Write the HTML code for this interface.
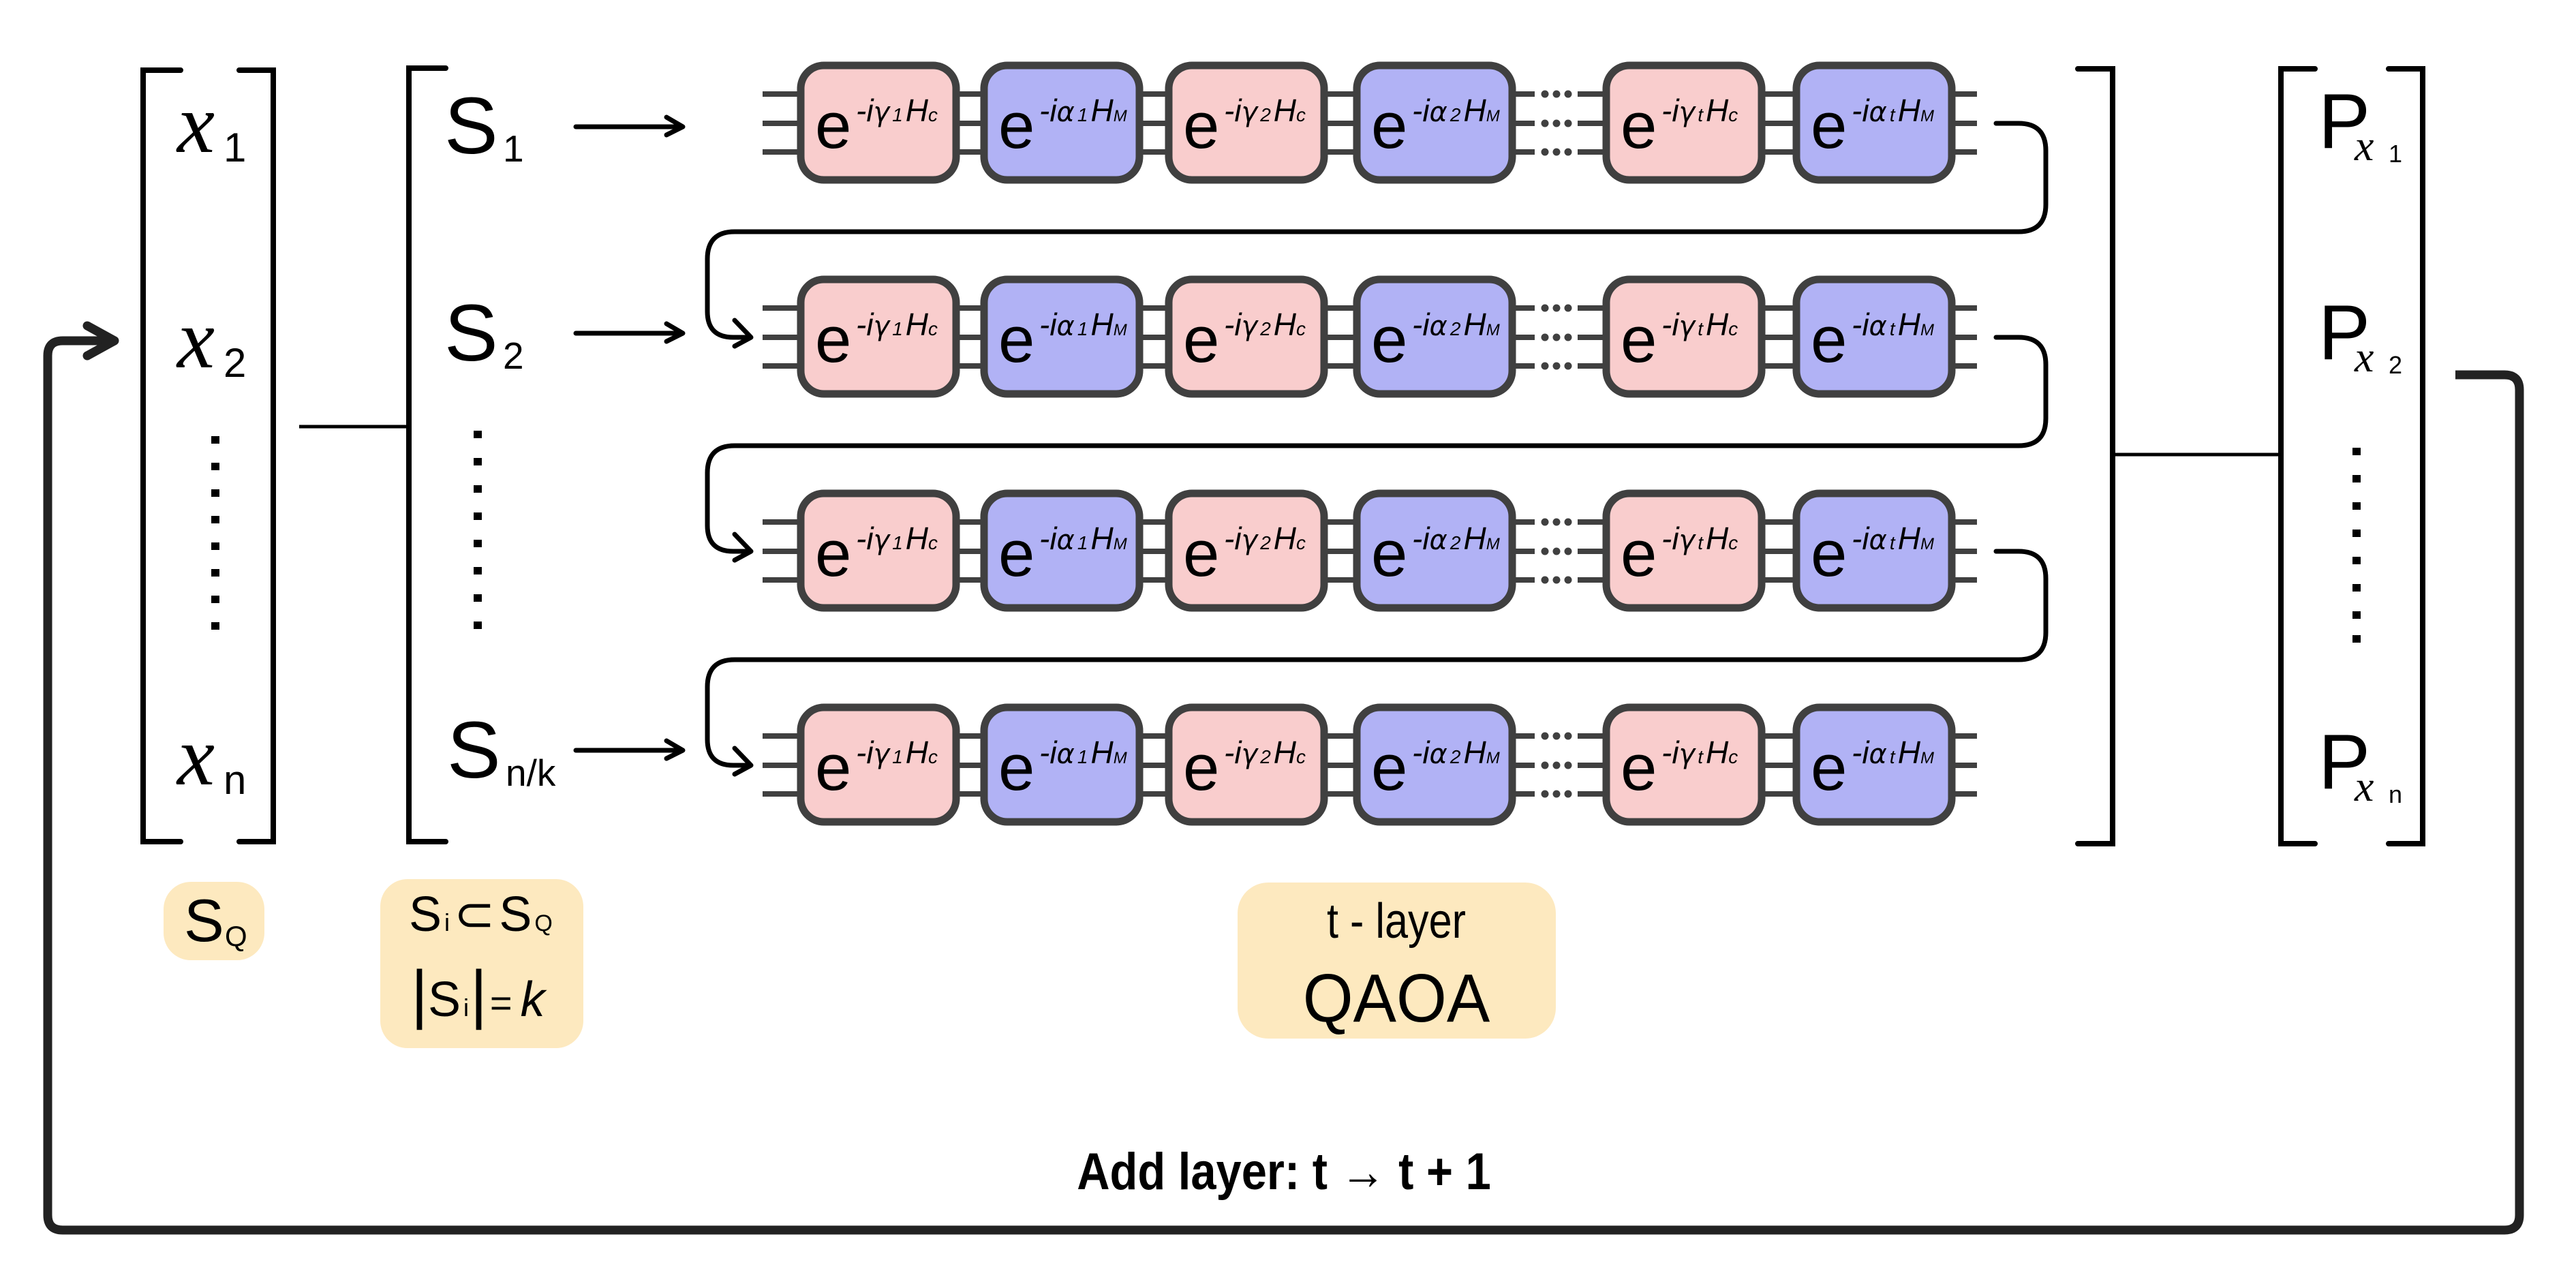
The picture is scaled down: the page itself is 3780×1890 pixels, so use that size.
<!DOCTYPE html>
<html><head><meta charset="utf-8"><style>
html,body{margin:0;padding:0;background:#fff;}
svg{display:block;}
text{font-family:"Liberation Sans",sans-serif;fill:#000;}
.g{stroke:#404040;stroke-width:11;}
.p{fill:#f9cdcd;}
.b{fill:#b1b2f5;}
.w{stroke:#404040;stroke-width:8;}
.k{stroke:#000;fill:none;}
.gr{font-family:"DejaVu Sans",sans-serif;}
</style></head><body>
<svg width="3780" height="1890" viewBox="0 0 3780 1890" xmlns="http://www.w3.org/2000/svg">
<defs>
<g id="wires">
  <line class="w" x1="1119" y1="42" x2="2252" y2="42"/><line class="w" x1="2315" y1="42" x2="2901" y2="42"/>
  <line class="w" x1="1119" y1="85" x2="2252" y2="85"/><line class="w" x1="2315" y1="85" x2="2901" y2="85"/>
  <line class="w" x1="1119" y1="127" x2="2252" y2="127"/><line class="w" x1="2315" y1="127" x2="2901" y2="127"/>
  <g fill="#404040">
  <circle cx="2267" cy="42" r="5.5"/><circle cx="2284" cy="42" r="5.5"/><circle cx="2301" cy="42" r="5.5"/>
  <circle cx="2267" cy="85" r="5.5"/><circle cx="2284" cy="85" r="5.5"/><circle cx="2301" cy="85" r="5.5"/>
  <circle cx="2267" cy="127" r="5.5"/><circle cx="2284" cy="127" r="5.5"/><circle cx="2301" cy="127" r="5.5"/>
  </g>
  <rect class="g p" x="1175" y="0" width="228" height="168" rx="34"/>
  <rect class="g b" x="1444" y="0" width="228" height="168" rx="34"/>
  <rect class="g p" x="1715" y="0" width="228" height="168" rx="34"/>
  <rect class="g b" x="1991" y="0" width="228" height="168" rx="34"/>
  <rect class="g p" x="2357" y="0" width="228" height="168" rx="34"/>
  <rect class="g b" x="2636" y="0" width="228" height="168" rx="34"/>
</g>
</defs>

<g transform="translate(0,96)"><use href="#wires"/></g>
<g transform="translate(0,410)"><use href="#wires"/></g>
<g transform="translate(0,724)"><use href="#wires"/></g>
<g transform="translate(0,1038)"><use href="#wires"/></g>

<g font-size="96">
<text x="1196" y="217">e</text><text x="1465" y="217">e</text><text x="1736" y="217">e</text><text x="2012" y="217">e</text><text x="2378" y="217">e</text><text x="2657" y="217">e</text>
<text x="1196" y="531">e</text><text x="1465" y="531">e</text><text x="1736" y="531">e</text><text x="2012" y="531">e</text><text x="2378" y="531">e</text><text x="2657" y="531">e</text>
<text x="1196" y="845">e</text><text x="1465" y="845">e</text><text x="1736" y="845">e</text><text x="2012" y="845">e</text><text x="2378" y="845">e</text><text x="2657" y="845">e</text>
<text x="1196" y="1159">e</text><text x="1465" y="1159">e</text><text x="1736" y="1159">e</text><text x="2012" y="1159">e</text><text x="2378" y="1159">e</text><text x="2657" y="1159">e</text>
</g>
<g font-size="46" font-style="italic">
<text x="1256" y="178">-i<tspan class="gr" font-size="40">γ</tspan><tspan font-size="28" dx="4">1</tspan><tspan dx="4">H</tspan><tspan font-size="28">c</tspan></text>
<text x="1525" y="178">-i<tspan class="gr" font-size="40">α</tspan><tspan font-size="28" dx="4">1</tspan><tspan dx="4">H</tspan><tspan font-size="24">M</tspan></text>
<text x="1796" y="178">-i<tspan class="gr" font-size="40">γ</tspan><tspan font-size="28" dx="4">2</tspan><tspan dx="4">H</tspan><tspan font-size="28">c</tspan></text>
<text x="2072" y="178">-i<tspan class="gr" font-size="40">α</tspan><tspan font-size="28" dx="4">2</tspan><tspan dx="4">H</tspan><tspan font-size="24">M</tspan></text>
<text x="2438" y="178">-i<tspan class="gr" font-size="40">γ</tspan><tspan font-size="28" dx="4">t</tspan><tspan dx="4">H</tspan><tspan font-size="28">c</tspan></text>
<text x="2717" y="178">-i<tspan class="gr" font-size="40">α</tspan><tspan font-size="28" dx="4">t</tspan><tspan dx="4">H</tspan><tspan font-size="24">M</tspan></text>

<text x="1256" y="492">-i<tspan class="gr" font-size="40">γ</tspan><tspan font-size="28" dx="4">1</tspan><tspan dx="4">H</tspan><tspan font-size="28">c</tspan></text>
<text x="1525" y="492">-i<tspan class="gr" font-size="40">α</tspan><tspan font-size="28" dx="4">1</tspan><tspan dx="4">H</tspan><tspan font-size="24">M</tspan></text>
<text x="1796" y="492">-i<tspan class="gr" font-size="40">γ</tspan><tspan font-size="28" dx="4">2</tspan><tspan dx="4">H</tspan><tspan font-size="28">c</tspan></text>
<text x="2072" y="492">-i<tspan class="gr" font-size="40">α</tspan><tspan font-size="28" dx="4">2</tspan><tspan dx="4">H</tspan><tspan font-size="24">M</tspan></text>
<text x="2438" y="492">-i<tspan class="gr" font-size="40">γ</tspan><tspan font-size="28" dx="4">t</tspan><tspan dx="4">H</tspan><tspan font-size="28">c</tspan></text>
<text x="2717" y="492">-i<tspan class="gr" font-size="40">α</tspan><tspan font-size="28" dx="4">t</tspan><tspan dx="4">H</tspan><tspan font-size="24">M</tspan></text>

<text x="1256" y="806">-i<tspan class="gr" font-size="40">γ</tspan><tspan font-size="28" dx="4">1</tspan><tspan dx="4">H</tspan><tspan font-size="28">c</tspan></text>
<text x="1525" y="806">-i<tspan class="gr" font-size="40">α</tspan><tspan font-size="28" dx="4">1</tspan><tspan dx="4">H</tspan><tspan font-size="24">M</tspan></text>
<text x="1796" y="806">-i<tspan class="gr" font-size="40">γ</tspan><tspan font-size="28" dx="4">2</tspan><tspan dx="4">H</tspan><tspan font-size="28">c</tspan></text>
<text x="2072" y="806">-i<tspan class="gr" font-size="40">α</tspan><tspan font-size="28" dx="4">2</tspan><tspan dx="4">H</tspan><tspan font-size="24">M</tspan></text>
<text x="2438" y="806">-i<tspan class="gr" font-size="40">γ</tspan><tspan font-size="28" dx="4">t</tspan><tspan dx="4">H</tspan><tspan font-size="28">c</tspan></text>
<text x="2717" y="806">-i<tspan class="gr" font-size="40">α</tspan><tspan font-size="28" dx="4">t</tspan><tspan dx="4">H</tspan><tspan font-size="24">M</tspan></text>

<text x="1256" y="1120">-i<tspan class="gr" font-size="40">γ</tspan><tspan font-size="28" dx="4">1</tspan><tspan dx="4">H</tspan><tspan font-size="28">c</tspan></text>
<text x="1525" y="1120">-i<tspan class="gr" font-size="40">α</tspan><tspan font-size="28" dx="4">1</tspan><tspan dx="4">H</tspan><tspan font-size="24">M</tspan></text>
<text x="1796" y="1120">-i<tspan class="gr" font-size="40">γ</tspan><tspan font-size="28" dx="4">2</tspan><tspan dx="4">H</tspan><tspan font-size="28">c</tspan></text>
<text x="2072" y="1120">-i<tspan class="gr" font-size="40">α</tspan><tspan font-size="28" dx="4">2</tspan><tspan dx="4">H</tspan><tspan font-size="24">M</tspan></text>
<text x="2438" y="1120">-i<tspan class="gr" font-size="40">γ</tspan><tspan font-size="28" dx="4">t</tspan><tspan dx="4">H</tspan><tspan font-size="28">c</tspan></text>
<text x="2717" y="1120">-i<tspan class="gr" font-size="40">α</tspan><tspan font-size="28" dx="4">t</tspan><tspan dx="4">H</tspan><tspan font-size="24">M</tspan></text>
</g>

<g class="k" stroke-width="7" stroke-linecap="round" stroke-linejoin="round">
<path d="M2929 181 H2962 Q3002 181 3002 221 V300 Q3002 340 2962 340 H1078 Q1038 340 1038 380 V457 Q1038 495 1076 495 H1100"/>
<path d="M1078 470 L1102 495 L1078 508"/>
<path d="M2929 495 H2962 Q3002 495 3002 535 V614 Q3002 654 2962 654 H1078 Q1038 654 1038 694 V771 Q1038 809 1076 809 H1100"/>
<path d="M1078 784 L1102 809 L1078 822"/>
<path d="M2929 809 H2962 Q3002 809 3002 849 V928 Q3002 968 2962 968 H1078 Q1038 968 1038 1008 V1085 Q1038 1123 1076 1123 H1100"/>
<path d="M1078 1098 L1102 1123 L1078 1136"/>
</g>

<g class="k" stroke-width="7" stroke-linecap="round" stroke-linejoin="round">
<path d="M845 186 H1000"/><path d="M978 172 L1002 186 L978 198"/>
<path d="M845 489 H1000"/><path d="M978 475 L1002 489 L978 501"/>
<path d="M845 1101 H1000"/><path d="M978 1087 L1002 1101 L978 1113"/>
</g>

<g class="k" stroke-width="8" stroke-linecap="round">
<path d="M265 103 H210 V1235 H265"/>
<path d="M351 103 H401 V1235 H351"/>
<path d="M654 100 H600 V1235 H654"/>
<path d="M3049 101 H3100 V1238 H3049"/>
<path d="M3397 101 H3347 V1238 H3397"/>
<path d="M3505 101 H3555 V1238 H3505"/>
</g>
<g stroke="#000" stroke-width="5">
<line x1="439" y1="626" x2="600" y2="626"/>
<line x1="3100" y1="667" x2="3347" y2="667"/>
</g>

<g fill="#000">
<rect x="310" y="640" width="12" height="11"/><rect x="310" y="679" width="12" height="11"/><rect x="310" y="718" width="12" height="11"/><rect x="310" y="757" width="12" height="11"/><rect x="310" y="796" width="12" height="11"/><rect x="310" y="835" width="12" height="11"/><rect x="310" y="874" width="12" height="11"/><rect x="310" y="913" width="12" height="11"/>
<rect x="695" y="632" width="12" height="11"/><rect x="695" y="672" width="12" height="11"/><rect x="695" y="712" width="12" height="11"/><rect x="695" y="752" width="12" height="11"/><rect x="695" y="792" width="12" height="11"/><rect x="695" y="832" width="12" height="11"/><rect x="695" y="872" width="12" height="11"/><rect x="695" y="912" width="12" height="11"/>
<rect x="3452" y="657" width="12" height="11"/><rect x="3452" y="697" width="12" height="11"/><rect x="3452" y="737" width="12" height="11"/><rect x="3452" y="777" width="12" height="11"/><rect x="3452" y="817" width="12" height="11"/><rect x="3452" y="857" width="12" height="11"/><rect x="3452" y="897" width="12" height="11"/><rect x="3452" y="932" width="12" height="11"/>
</g>

<g>
<text x="260" y="223" font-style="italic" font-size="124" style="font-family:'Liberation Serif',serif">x</text><text x="328" y="237" font-size="60">1</text>
<text x="260" y="539" font-style="italic" font-size="124" style="font-family:'Liberation Serif',serif">x</text><text x="328" y="553" font-size="60">2</text>
<text x="260" y="1151" font-style="italic" font-size="124" style="font-family:'Liberation Serif',serif">x</text><text x="328" y="1165" font-size="60">n</text>
</g>
<g>
<text x="652" y="225" font-size="118">S</text><text x="738" y="237" font-size="55">1</text>
<text x="652" y="529" font-size="118">S</text><text x="738" y="541" font-size="55">2</text>
<text x="656" y="1141" font-size="118">S</text><text x="742" y="1153" font-size="55">n/k</text>
</g>
<g>
<text x="3402" y="217" font-size="114">P</text><text x="3455" y="235" font-size="64" font-style="italic" style="font-family:'Liberation Serif',serif">x</text><text x="3505" y="238" font-size="36">1</text>
<text x="3402" y="527" font-size="114">P</text><text x="3455" y="545" font-size="64" font-style="italic" style="font-family:'Liberation Serif',serif">x</text><text x="3505" y="548" font-size="36">2</text>
<text x="3402" y="1157" font-size="114">P</text><text x="3455" y="1175" font-size="64" font-style="italic" style="font-family:'Liberation Serif',serif">x</text><text x="3505" y="1178" font-size="36">n</text>
</g>

<rect x="240" y="1294" width="148" height="115" rx="40" fill="#fde9bf"/>
<text x="270" y="1381" font-size="88">S</text><text x="330" y="1388" font-size="42">Q</text>
<rect x="558" y="1290" width="298" height="248" rx="40" fill="#fde9bf"/>
<text x="600" y="1366" font-size="72">S<tspan font-size="36" dx="4">i</tspan><tspan dx="6">⊂</tspan><tspan dx="6">S</tspan><tspan font-size="34" dx="4">Q</tspan></text>
<text x="603" y="1491" font-size="72"><tspan font-size="96">|</tspan>S<tspan font-size="36" dx="4">i</tspan><tspan font-size="96" dx="2">|</tspan><tspan font-size="56" dx="4">=</tspan><tspan font-style="italic" dx="12">k</tspan></text>
<rect x="1816" y="1295" width="467" height="229" rx="45" fill="#fde9bf"/>
<text x="2049" y="1376" font-size="72" text-anchor="middle" transform="translate(2049,0) scale(0.85,1) translate(-2049,0)">t - layer</text>
<text x="2049" y="1499" font-size="100" text-anchor="middle" transform="translate(2049,0) scale(0.95,1) translate(-2049,0)">QAOA</text>

<path d="M3603 550 H3675 Q3697 550 3697 572 V1783 Q3697 1805 3675 1805 H92 Q70 1805 70 1783 V522 Q70 500 92 500 H165" stroke="#222" stroke-width="13" fill="none"/>
<path d="M128 478 L168 500 L128 522" stroke="#222" stroke-width="13" fill="none" stroke-linecap="round" stroke-linejoin="round"/>
<text x="1884" y="1745" font-size="76" font-weight="bold" text-anchor="middle" transform="translate(1884,0) scale(0.88,1) translate(-1884,0)">Add layer: t → t + 1</text>
</svg>
</body></html>
